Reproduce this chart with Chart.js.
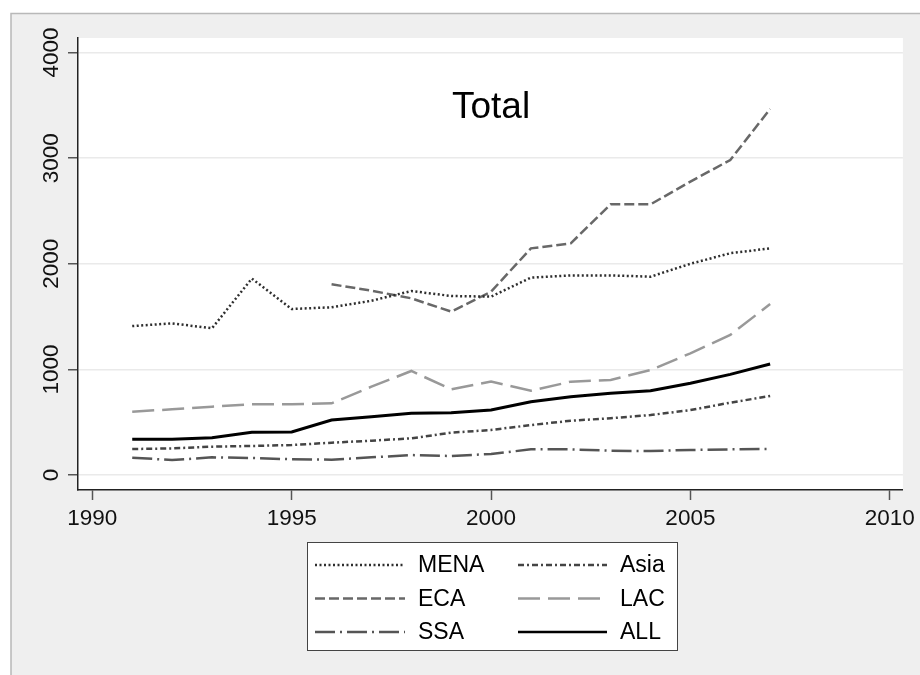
<!DOCTYPE html>
<html>
<head>
<meta charset="utf-8">
<script src="https://cdn.jsdelivr.net/npm/chart.js@4.4.1/dist/chart.umd.min.js"></script>
<style>
  html, body { margin: 0; padding: 0; background: #ffffff; }
  #wrap { width: 920px; height: 675px; }
</style>
</head>
<body>
<div id="wrap"><canvas id="grafico" width="920" height="675"></canvas></div>
<script>
// ===== DADOS =====
const anos = [1991, 1992, 1993, 1994, 1995, 1996, 1997, 1998, 1999, 2000, 2001, 2002, 2003, 2004, 2005, 2006, 2007];

const mena = [1410, 1436, 1389, 1860, 1572, 1588, 1650, 1742, 1695, 1689, 1869, 1890, 1890, 1878, 2000, 2100, 2146];
const eca  = [null, null, null, null, null, 1806, 1745, 1673, 1547, 1736, 2146, 2194, 2563, 2563, 2778, 2983, 3466];
const ssa  = [164, 142, 167, 161, 149, 145, 167, 189, 180, 199, 243, 243, 230, 227, 237, 243, 246];
const asia = [246, 252, 268, 275, 284, 306, 325, 347, 401, 426, 473, 514, 537, 568, 615, 685, 748];
const lac  = [600, 622, 647, 669, 669, 679, 836, 985, 811, 884, 798, 884, 900, 994, 1152, 1326, 1619];
const all  = [338, 338, 353, 404, 407, 521, 552, 584, 590, 615, 694, 742, 773, 798, 868, 953, 1051];

const xTicks = [1990, 1995, 2000, 2005, 2010];
const yTicks = [0, 1000, 2000, 3000, 4000];
const titulo = 'Total';

const FONTE = '"Liberation Sans", Arial, sans-serif';

function pontos(valores) {
  return anos.map((a, i) => ({ x: a, y: valores[i] }));
}

function serie(label, valores, cor, dash, largura) {
  return {
    label,
    data: pontos(valores),
    borderColor: cor,
    borderDash: dash,
    borderWidth: largura,
    pointRadius: 0,
    tension: 0,
    fill: false,
    spanGaps: false
  };
}

// ===== FUNDO / MOLDURA =====
const fundo = {
  id: 'fundo',
  beforeDraw(c) {
    const ctx = c.ctx;
    const a = c.chartArea;
    ctx.save();
    ctx.fillStyle = '#ffffff';
    ctx.fillRect(0, 0, c.width, c.height);
    ctx.fillStyle = '#efefef';
    ctx.fillRect(11, 13, c.width - 11, c.height - 13);
    ctx.strokeStyle = '#b8b8b8';
    ctx.lineWidth = 1.5;
    ctx.beginPath();
    ctx.moveTo(11, c.height);
    ctx.lineTo(11, 13.5);
    ctx.lineTo(c.width, 13.5);
    ctx.stroke();
    ctx.fillStyle = '#ffffff';
    ctx.fillRect(a.left, a.top, a.right - a.left, a.bottom - a.top);
    ctx.restore();
  }
};

// ===== TITULO E LEGENDA =====
const extras = {
  id: 'extras',
  afterDraw(c) {
    const ctx = c.ctx;
    const xs = c.scales.x;
    const ys = c.scales.y;
    ctx.save();

    ctx.fillStyle = '#000000';
    ctx.font = '37px ' + FONTE;
    ctx.textAlign = 'center';
    ctx.textBaseline = 'middle';
    ctx.fillText(titulo, xs.getPixelForValue(2000), ys.getPixelForValue(3480));

    // caixa da legenda
    ctx.fillStyle = '#ffffff';
    ctx.fillRect(307, 542, 370, 108);
    ctx.strokeStyle = '#444444';
    ctx.lineWidth = 1;
    ctx.strokeRect(307.5, 542.5, 370, 108);

    const ordem = ['MENA', 'Asia', 'ECA', 'LAC', 'SSA', 'ALL'];
    const colunas = [{ x0: 315, x1: 405, tx: 418 }, { x0: 518, x1: 607, tx: 620 }];
    const linhas = [565, 598.5, 632];
    ctx.font = '23px ' + FONTE;
    ctx.textAlign = 'left';
    ctx.textBaseline = 'middle';
    ordem.forEach((nome, i) => {
      const ds = c.data.datasets.find(d => d.label === nome);
      const col = colunas[i % 2];
      const y = linhas[Math.floor(i / 2)];
      ctx.strokeStyle = ds.borderColor;
      ctx.lineWidth = Math.min(ds.borderWidth, 2.5);
      ctx.setLineDash(ds.borderDash || []);
      ctx.beginPath();
      ctx.moveTo(col.x0, y);
      ctx.lineTo(col.x1, y);
      ctx.stroke();
      ctx.setLineDash([]);
      ctx.fillStyle = '#000000';
      ctx.fillText(nome, col.tx, y + 1);
    });
    ctx.restore();
  }
};

// ===== GRAFICO =====
document.addEventListener('DOMContentLoaded', () => {
  new Chart(document.getElementById('grafico'), {
    type: 'line',
    data: {
      datasets: [
        serie('MENA', mena, '#2e2e2e', [2, 2.5], 2.5),
        serie('ECA', eca, '#686868', [10, 4], 2.5),
        serie('SSA', ssa, '#555555', [20, 5, 2, 5], 2.5),
        serie('Asia', asia, '#444444', [6, 3, 2, 3], 2.5),
        serie('LAC', lac, '#999999', [22, 8], 2.5),
        serie('ALL', all, '#000000', [], 3)
      ]
    },
    options: {
      responsive: false,
      animation: false,
      devicePixelRatio: 1,
      layout: { padding: { left: 18, top: 38, right: 14, bottom: 145 } },
      plugins: {
        legend: { display: false },
        tooltip: { enabled: false }
      },
      scales: {
        x: {
          type: 'linear',
          min: 1989.64,
          max: 2010.33,
          afterBuildTicks: s => { s.ticks = xTicks.map(v => ({ value: v })); },
          afterFit: s => { s.height = 40; },
          grid: {
            drawOnChartArea: false,
            drawTicks: true,
            tickLength: 10,
            tickColor: '#555555',
            tickWidth: 1.5
          },
          border: { display: true, color: '#222222', width: 1.5 },
          ticks: {
            color: '#111111',
            font: { family: FONTE, size: 22.5 },
            padding: 5,
            maxRotation: 0,
            callback: v => String(v)
          }
        },
        y: {
          type: 'linear',
          min: -142,
          max: 4138,
          afterBuildTicks: s => { s.ticks = yTicks.map(v => ({ value: v })); },
          afterFit: s => { s.width = 60; },
          grid: {
            color: '#eaeaea',
            lineWidth: 1.5,
            drawTicks: true,
            tickLength: 10,
            tickColor: '#555555',
            tickWidth: 1.5
          },
          border: { display: true, color: '#222222', width: 1.5 },
          ticks: {
            color: '#111111',
            font: { family: FONTE, size: 22.5 },
            minRotation: 90,
            maxRotation: 90,
            crossAlign: 'center',
            padding: -9,
            callback: v => String(v)
          }
        }
      }
    },
    plugins: [fundo, extras]
  });
});
</script>
</body>
</html>
